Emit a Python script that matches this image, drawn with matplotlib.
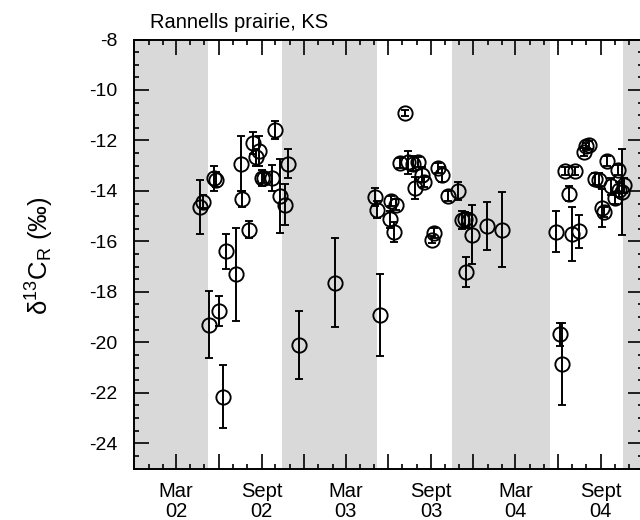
import matplotlib
matplotlib.use("Agg")
import matplotlib.pyplot as plt
import matplotlib.dates as mdates
import matplotlib.ticker as mticker
import pandas as pd

plt.rcParams['font.family'] = ['Liberation Sans', 'DejaVu Sans']
plt.rcParams['mathtext.fontset'] = 'custom'
plt.rcParams['mathtext.rm'] = 'Liberation Sans'
plt.rcParams['mathtext.default'] = 'regular'
plt.rcParams['axes.unicode_minus'] = False

# ---- data ----
dates = [
    "2002-04-21", "2002-04-27", "2002-05-11", "2002-05-22", "2002-05-27",
    "2002-06-02", "2002-06-11", "2002-06-17", "2002-07-08", "2002-07-19",
    "2002-07-20", "2002-08-05", "2002-08-13", "2002-08-21", "2002-08-26",
    "2002-09-01", "2002-09-06", "2002-09-23", "2002-10-01", "2002-10-10",
    "2002-10-21", "2002-10-29", "2002-11-21", "2003-02-07", "2003-05-15",
    "2003-05-03", "2003-05-07", "2003-06-04", "2003-06-08", "2003-06-13",
    "2003-06-18", "2003-06-27", "2003-07-07", "2003-07-14", "2003-07-25",
    "2003-07-28", "2003-08-05", "2003-08-12", "2003-08-17", "2003-09-03",
    "2003-09-07", "2003-09-17", "2003-09-25", "2003-10-07", "2003-10-29",
    "2003-11-06", "2003-11-14", "2003-11-16", "2003-11-22", "2003-11-28",
    "2003-12-31", "2004-02-01",
    "2004-05-27", "2004-06-05", "2004-06-09", "2004-06-16", "2004-06-25",
    "2004-07-01", "2004-07-08", "2004-07-15", "2004-07-27", "2004-08-01",
    "2004-08-07", "2004-08-20", "2004-08-29", "2004-09-03", "2004-09-07",
    "2004-09-15", "2004-09-22", "2004-10-01", "2004-10-08", "2004-10-10",
    "2004-10-16", "2004-10-20",
]
d13c = [
    -14.62, -14.43, -19.31, -13.50, -13.55,
    -18.76, -22.16, -16.40, -17.31, -12.92,
    -14.32, -15.53, -12.10, -12.67, -12.43,
    -13.49, -13.49, -13.49, -11.60, -14.20,
    -14.54, -12.92, -20.11, -17.63, -18.93,
    -14.24, -14.74, -15.13, -14.41, -15.64,
    -14.54, -12.90, -10.92, -12.87, -12.92,
    -13.88, -12.87, -13.36, -13.63, -15.93,
    -15.66, -13.10, -13.36, -14.21, -14.00,
    -15.15, -15.13, -17.22, -15.16, -15.74,
    -15.40, -15.53,
    -15.62, -19.68, -20.87, -13.22, -14.11,
    -15.69, -13.22, -15.60, -12.46, -12.24,
    -12.17, -13.53, -13.55, -14.67, -14.82,
    -12.81, -13.82, -14.30, -13.16, -13.95,
    -14.05, -13.77,
]
err = [
    1.07, 0.25, 1.33, 0.50, 0.30,
    0.58, 1.25, 0.69, 1.85, 1.08,
    0.30, 0.35, 0.45, 0.35, 0.60,
    0.33, 0.20, 0.50, 0.36, 1.46,
    0.82, 0.57, 1.34, 1.75, 1.63,
    0.35, 0.35, 0.33, 0.20, 0.40,
    0.20, 0.20, 0.12, 0.45, 0.30,
    0.45, 0.20, 0.30, 0.20, 0.15,
    0.20, 0.20, 0.30, 0.20, 0.35,
    0.35, 0.30, 0.60, 0.30, 1.17,
    0.96, 1.49,
    0.82, 0.46, 1.63, 0.15, 0.30,
    1.07, 0.15, 0.65, 0.15, 0.15,
    0.15, 0.25, 0.25, 0.76, 0.20,
    0.20, 0.35, 0.20, 0.20, 0.30,
    1.70, 0.30,
]
dormant_start = ["2001-12-01", "2002-10-15", "2003-10-16", "2004-10-18"]
dormant_end = ["2002-05-09", "2003-05-08", "2004-05-14", "2004-12-31"]
x_range = ["2001-12-01", "2004-12-01"]
y_range = [-25, -8]
month_names = {3: "Mar", 9: "Sept"}

# ---- figure ----
fig = plt.figure(figsize=(6.4, 5.2), dpi=100)
ax = fig.add_axes([134.3 / 640, 51.5 / 520, 508.8 / 640, 429 / 520])

for s, e in zip(dormant_start, dormant_end):
    ax.axvspan(pd.Timestamp(s), pd.Timestamp(e), color='#d9d9d9', lw=0, zorder=0)

xd = pd.to_datetime(dates)
ax.errorbar(xd, d13c, yerr=err, fmt='o', mfc='none', mec='black', ms=10.3,
            mew=1.35, ecolor='black', elinewidth=1.4, capsize=2.6,
            capthick=1.4, zorder=3)

ax.set_xlim(pd.Timestamp(x_range[0]), pd.Timestamp(x_range[1]))
ax.set_ylim(*y_range)

ax.xaxis.set_major_locator(mdates.MonthLocator(bymonth=[3, 6, 9, 12]))
ax.xaxis.set_minor_locator(mdates.MonthLocator())


def fmt(v, pos=None):
    d = mdates.num2date(v)
    if d.month in month_names:
        return f"{month_names[d.month]}\n{d.year % 100:02d}"
    return ""


ax.xaxis.set_major_formatter(mticker.FuncFormatter(fmt))
ax.yaxis.set_major_locator(mticker.MultipleLocator(2))
ax.yaxis.set_minor_locator(mticker.MultipleLocator(0.5))

ax.tick_params(which='both', direction='in', top=True, right=True, width=1.2)
ax.tick_params(which='major', length=10.5)
ax.tick_params(which='minor', length=3.8)
ax.tick_params(axis='y', pad=12, labelsize=14)
ax.tick_params(axis='x', pad=10, labelsize=14.5)
for lab in ax.get_xticklabels():
    lab.set_linespacing(1.05)
for sp in ax.spines.values():
    sp.set_linewidth(1.4)

fig.text(150 / 640, 492 / 520, "Rannells prairie, KS", fontsize=14.5,
         ha='left', va='baseline')
fig.text(40 / 640, (520 - 256) / 520, "δ$^{13}$C$_R$ (‰)", fontsize=18.5,
         rotation=90, ha='center', va='center')

fig.savefig("out.png", dpi=100)
